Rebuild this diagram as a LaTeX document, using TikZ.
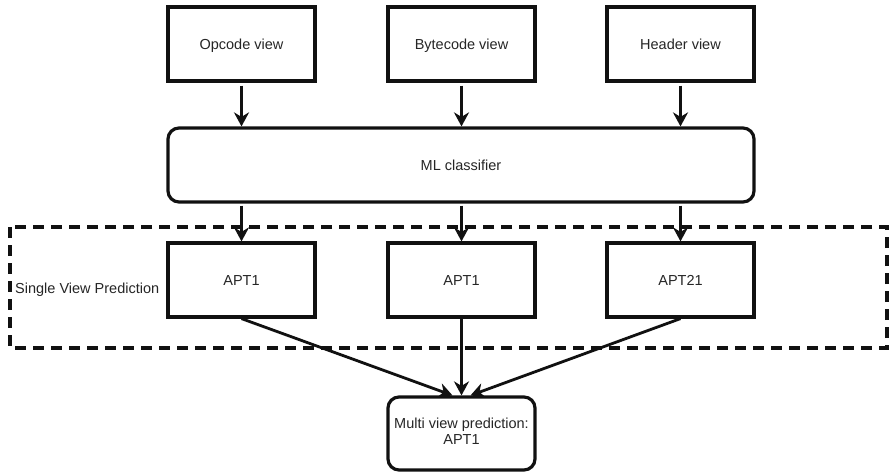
\documentclass[tikz,border=0pt]{standalone}
\usepackage{fontspec}
\setmainfont{Liberation Sans}
\usetikzlibrary{arrows.meta}
\definecolor{ink}{HTML}{111111}
\definecolor{txt}{HTML}{262626}
\tikzset{
  box/.style={draw=ink, line width=3.2pt, rectangle, minimum width=147pt, minimum height=74pt,
    inner sep=0pt, text=txt, font=\fontsize{14.5}{16}\selectfont, align=center,
    text height=10.4pt, text depth=0pt},
  roundbox/.style={box, rounded corners=11pt},
  flow/.style={draw=ink, line width=2.8pt, -{Stealth[length=14pt, width=15pt, inset=4.5pt]}},
  group/.style={draw=ink, line width=3.2pt, dash pattern=on 11pt off 7pt}
}
\begin{document}
\begin{tikzpicture}[x=1pt, y=-1pt]
  \useasboundingbox[fill=white] (0,0) rectangle (889,472);

  % input views
  \node[box] (opcode) at (241.5,44) {Opcode view};
  \node[box] (bytecode) at (461.5,44) {Bytecode view};
  \node[box] (header) at (680.5,44) {Header view};

  % classifier
  \node[roundbox, minimum width=586pt] (ml) at (461,165) {ML classifier};

  % single view group
  \draw[group] (10,227) rectangle (887,348);
  \node[anchor=west, inner sep=0pt, text=txt, font=\fontsize{14.5}{16}\selectfont,
        text height=10.4pt, text depth=0pt] (svp) at (15,288) {Single View Prediction};

  \node[box] (p1) at (241.5,280) {APT1};
  \node[box] (p2) at (461.5,280) {APT1};
  \node[box] (p3) at (680.5,280) {APT21};

  % combined result
  \node[roundbox, minimum height=73pt, text height=, text depth=] (multi) at (461.5,433.5)
    {\strut Multi view prediction:\\\strut APT1};

  % connectors
  \draw[flow, shorten <=3pt] (opcode.south) -- (opcode.south |- ml.north);
  \draw[flow, shorten <=3pt] (bytecode.south) -- (bytecode.south |- ml.north);
  \draw[flow, shorten <=3pt] (header.south) -- (header.south |- ml.north);

  \draw[flow, shorten <=2pt] (p1.north |- ml.south) -- (p1.north);
  \draw[flow, shorten <=2pt] (p2.north |- ml.south) -- (p2.north);
  \draw[flow, shorten <=2pt] (p3.north |- ml.south) -- (p3.north);

  \draw[flow] (p1.south) -- ([xshift=-9pt]multi.north);
  \draw[flow] (p2.south) -- (multi.north);
  \draw[flow] (p3.south) -- ([xshift=9pt]multi.north);
\end{tikzpicture}
\end{document}
